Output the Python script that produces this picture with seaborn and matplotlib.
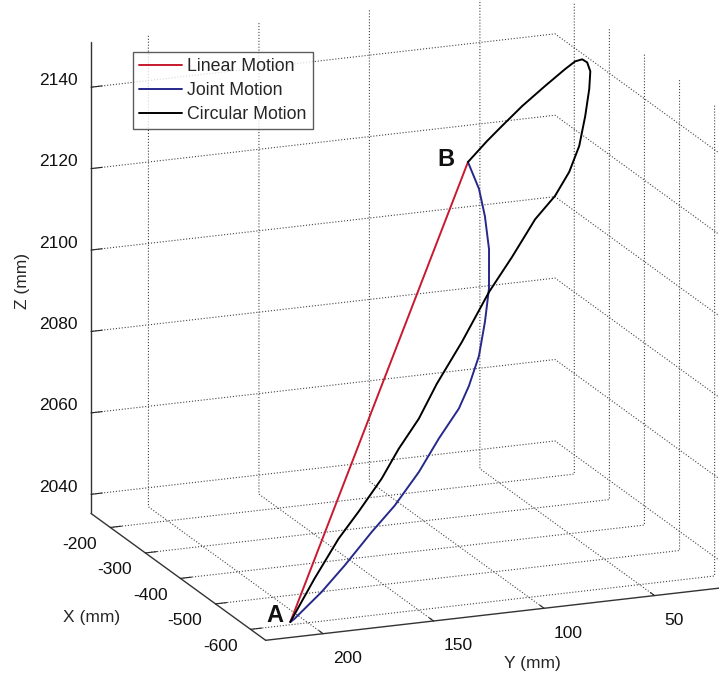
import matplotlib
matplotlib.use("Agg")
import matplotlib.pyplot as plt
from matplotlib.ticker import NullFormatter
from mpl_toolkits.mplot3d import proj3d
import seaborn as sns

# Trajectory end points (mm)
A = (-600.0, 208.0, 2036.0)
B = (-300.0, 80.0, 2122.2)

# Linear motion: straight segment A -> B
lin_x = [A[0], B[0]]
lin_y = [A[1], B[1]]
lin_z = [A[2], B[2]]

# Joint motion samples A -> B
joint_x = [-600, -590, -570, -550, -530, -510, -490, -470, -450, -430, -410,
           -390, -370, -350, -330, -315, -300]
joint_y = [208.0, 204.6, 189.1, 175.5, 160.1, 146.5, 132.4, 120.2, 107.9,
           100.2, 92.5, 86.6, 81.6, 78.4, 77.1, 77.4, 80.0]
joint_z = [2036.0, 2035.9, 2040.3, 2044.7, 2050.7, 2055.1, 2061.2, 2067.4,
           2072.8, 2076.6, 2082.2, 2089.0, 2095.6, 2103.8, 2110.6, 2116.4,
           2122.2]

# Circular motion samples A -> via -> B
circ_x = [-600, -580, -560, -540, -520, -500, -480, -460, -440, -420, -400,
          -385, -370, -355, -340, -325, -315, -308, -304, -300, -300, -300,
          -300, -300, -300, -300, -300]
circ_y = [208.0, 193.9, 179.8, 167.6, 154.0, 143.1, 130.8, 119.5, 105.0,
          89.5, 75.9, 63.1, 51.7, 42.9, 36.0, 30.9, 27.5, 25.9, 26.7, 28.3,
          31.5, 36.0, 45.1, 55.5, 64.6, 71.4, 80.0]
circ_z = [2036.0, 2044.5, 2052.2, 2056.8, 2062.8, 2068.2, 2073.6, 2080.2,
          2088.3, 2098.4, 2104.9, 2112.4, 2116.5, 2120.9, 2125.9, 2132.0,
          2137.8, 2141.6, 2143.6, 2144.2, 2143.9, 2142.3, 2138.7, 2134.4,
          2130.1, 2126.8, 2122.2]

series_names = ["Linear Motion", "Joint Motion", "Circular Motion"]
series_colors = ["#c8192e", "#26288a", "#000000"]

x_ticks = [-600, -500, -400, -300, -200]
y_ticks = [50, 100, 150, 200]
z_ticks = [2040, 2060, 2080, 2100, 2120, 2140]

XLIM = (-643, -145)
YLIM = (16, 226)
ZLIM = (2035.3, 2151)

sns.set_style("white")
plt.rcParams["font.family"] = ["Liberation Sans", "DejaVu Sans"]
plt.rcParams["axes.unicode_minus"] = False
plt.rcParams["grid.linestyle"] = ":"
plt.rcParams["grid.color"] = "#444444"
plt.rcParams["grid.linewidth"] = 0.8
plt.rcParams["axes3d.grid"] = True

fig = plt.figure(figsize=(7.19, 6.76), dpi=100)
ax = fig.add_axes([0.058, 0.021, 1.0, 1.0], projection="3d")
ax.set_proj_type("ortho")
ax.view_init(elev=16.8, azim=158.3)
ax.set_box_aspect((0.96, 1.015, 1.0), zoom=1.214)

series = [(lin_x, lin_y, lin_z), (joint_x, joint_y, joint_z),
          (circ_x, circ_y, circ_z)]
for (xs, ys, zs), name, col in zip(series, series_names, series_colors):
    ax.plot(xs, ys, zs, color=col, lw=1.4, label=name)

ax.set_xlim(*XLIM)
ax.set_ylim(*YLIM)
ax.set_zlim(*ZLIM)
ax.set_xticks(x_ticks)
ax.set_yticks(y_ticks)
ax.set_zticks(z_ticks)
ax.zaxis.set_ticks_position("upper")
for axis in (ax.xaxis, ax.yaxis, ax.zaxis):
    axis.set_major_formatter(NullFormatter())
    axis.set_pane_color((1, 1, 1, 0))
    axis.pane.set_edgecolor((1, 1, 1, 0))
    axis.line.set_color("#333333")
    axis.line.set_linewidth(1.0)
    axis._axinfo["grid"].update(color="#444444", linestyle=":", linewidth=0.8)
    axis._axinfo["tick"]["inward_factor"] = 0.0
    axis._axinfo["tick"]["outward_factor"] = 0.3

# Labels placed next to projected 3D positions
fig.canvas.draw()
M = ax.get_proj()


def label_at(x, y, z, text, dx, dy, ha, va="center", **kw):
    px, py, _ = proj3d.proj_transform(x, y, z, M)
    ax.annotate(text, xy=(px, py), xycoords="data", xytext=(dx, dy),
                textcoords="offset pixels", ha=ha, va=va,
                annotation_clip=False, **kw)


tick_style = dict(fontsize=12.5, color="#111111")
for v in x_ticks:
    label_at(v, YLIM[1], ZLIM[0], str(v), -13, -17, "right", **tick_style)
for v in y_ticks:
    label_at(XLIM[0], v, ZLIM[0], str(v), 10, -25, "left", **tick_style)
for v in z_ticks:
    label_at(XLIM[1], YLIM[1], v, str(v), -13, 7, "right", **tick_style)

point_style = dict(fontsize=17, fontweight="bold", color="#111111")
label_at(*A, "A", -7, 0, "right", va="baseline", **point_style)
label_at(*B, "B", -13, -4, "right", va="baseline", **point_style)

fig.text(0.127, 0.086, "X (mm)", fontsize=12.5, ha="center", va="center")
fig.text(0.741, 0.019, "Y (mm)", fontsize=12.5, ha="center", va="center")
fig.text(0.031, 0.584, "Z (mm)", fontsize=12.5, ha="center", va="center",
         rotation=90)

fig.legend(loc="upper left", bbox_to_anchor=(0.185, 0.923), frameon=True,
           fancybox=False, edgecolor="#333333", fontsize=12.8,
           handlelength=2.4, borderpad=0.35, labelspacing=0.38,
           handletextpad=0.3, borderaxespad=0.0)

fig.savefig("out.png", dpi=100)
